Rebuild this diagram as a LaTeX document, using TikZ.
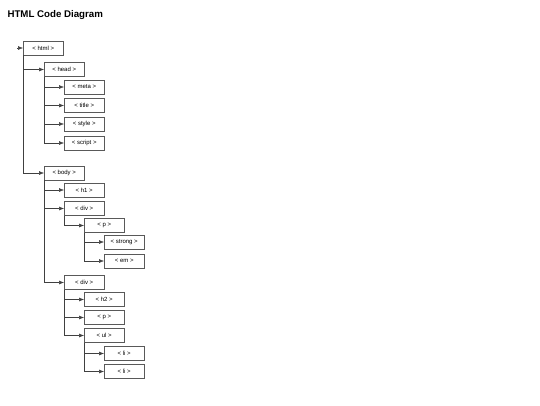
\documentclass[tikz,border=0pt]{standalone}
\usepackage{fontspec}
\setmainfont{Liberation Sans}
\usetikzlibrary{arrows.meta}
\begin{document}
\begin{tikzpicture}[x=1pt,y=-1pt,
  tag/.style={draw=black!65,fill=white,anchor=west,minimum width=40pt,minimum height=14pt,inner sep=0pt,font=\fontsize{6}{7}\selectfont},
  link/.style={draw=black!75,line width=0.5pt,-{Latex[length=5pt,width=4pt]}}]
\useasboundingbox (0,0) rectangle (540,405);
\node[anchor=base west,font=\fontsize{9.7}{12}\selectfont\bfseries] (heading) at (4,17.5) {HTML Code Diagram};
% tree of tags
\node[tag] (html) at (23,48) {< html >};
\node[tag] (head) at (44,69.5) {< head >};
\node[tag] (meta) at (64,87) {< meta >};
\node[tag] (title) at (64,105.5) {< title >};
\node[tag] (style) at (64,124) {< style >};
\node[tag] (script) at (64,143) {< script >};
\node[tag] (body) at (44,173) {< body >};
\node[tag] (h1) at (64,190) {< h1 >};
\node[tag] (div) at (64,208.5) {< div >};
\node[tag] (p) at (84,225.5) {< p >};
\node[tag] (strong) at (104,242) {< strong >};
\node[tag] (em) at (104,261) {< em >};
\node[tag] (div2) at (64,282.5) {< div >};
\node[tag] (h2) at (84,299.5) {< h2 >};
\node[tag] (p2) at (84,317.5) {< p >};
\node[tag] (ul) at (84,335.5) {< ul >};
\node[tag] (li) at (104,353.5) {< li >};
\node[tag] (li2) at (104,371.5) {< li >};
% connectors
\coordinate (start) at (17,48);
\draw[link] (start) -- (html.west);
\draw[link] (html.south west) |- (head.west);
\draw[link] (html.south west) |- (body.west);
\draw[link] (head.south west) |- (meta.west);
\draw[link] (head.south west) |- (title.west);
\draw[link] (head.south west) |- (style.west);
\draw[link] (head.south west) |- (script.west);
\draw[link] (body.south west) |- (h1.west);
\draw[link] (body.south west) |- (div.west);
\draw[link] (body.south west) |- (div2.west);
\draw[link] (div.south west) |- (p.west);
\draw[link] (p.south west) |- (strong.west);
\draw[link] (p.south west) |- (em.west);
\draw[link] (div2.south west) |- (h2.west);
\draw[link] (div2.south west) |- (p2.west);
\draw[link] (div2.south west) |- (ul.west);
\draw[link] (ul.south west) |- (li.west);
\draw[link] (ul.south west) |- (li2.west);
\end{tikzpicture}
\end{document}
